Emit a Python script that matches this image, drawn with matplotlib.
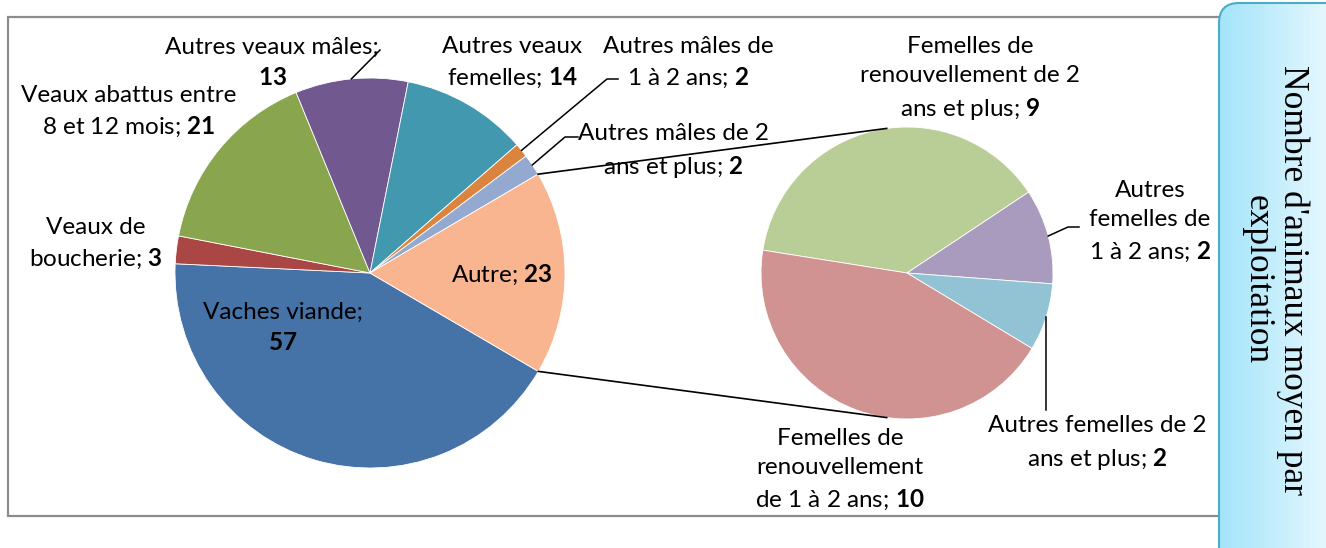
import matplotlib
matplotlib.use("Agg")
import numpy as np
import matplotlib.pyplot as plt
from matplotlib.patches import FancyBboxPatch, Rectangle
from matplotlib.colors import LinearSegmentedColormap

plt.rcParams["font.family"] = ["Lato", "DejaVu Sans"]
plt.rcParams["mathtext.fontset"] = "custom"
plt.rcParams["mathtext.rm"] = "Lato"
plt.rcParams["mathtext.bf"] = "Lato:bold"

W, H = 1326, 548

# camembert principal, sens horaire depuis le bas de "Autre"
main_labels = ["Vaches viande;\n", "Veaux de\nboucherie; ", "Veaux abattus entre\n8 et 12 mois; ",
               "Autres veaux mâles;\n", "Autres veaux\nfemelles; ", "Autres mâles de\n1 à 2 ans; ",
               "Autres mâles de 2\nans et plus; ", "Autre; "]
main_values = [57.2, 3.1, 21.3, 12.6, 14.1, 1.6, 2.4, 22.8]
main_colors = ["#4572a7", "#aa4643", "#89a54e", "#71588f", "#4198af", "#db843d", "#93a9cf", "#f9b590"]

# camembert secondaire (détail de "Autre")
sub_labels = ["Femelles de\nrenouvellement de 2\nans et plus; ", "Autres\nfemelles de\n1 à 2 ans; ",
              "Autres femelles de 2\nans et plus; ", "Femelles de\nrenouvellement\nde 1 à 2 ans; "]
sub_values = [8.7, 2.4, 1.7, 10.0]
sub_colors = ["#b9cd96", "#a99bbd", "#91c3d5", "#d09392"]

box_title = "Nombre d'animaux moyen par\nexploitation"


def P(x, y):
    # pixels (origine en haut à gauche) -> données
    return (x, H - y)


fig = plt.figure(figsize=(W / 100, H / 100), dpi=100)
ax = fig.add_axes([0, 0, 1, 1])

# cadre du graphique
ax.add_patch(Rectangle(P(8, 516), 1217, 499, fill=False, edgecolor="#8c8c8c", lw=1.6, zorder=0))

c1, r1 = P(370, 273), 195
c2, r2 = P(907, 273), 146
w1, _ = ax.pie(main_values, colors=main_colors, startangle=-30.3, counterclock=False,
               center=c1, radius=r1, wedgeprops=dict(edgecolor="white", linewidth=0.6))
w2, _ = ax.pie(sub_values, colors=sub_colors, startangle=171, counterclock=False,
               center=c2, radius=r2, wedgeprops=dict(edgecolor="white", linewidth=0.6))


def on_circle(c, r, ang):
    a = np.radians(ang)
    return c[0] + r * np.cos(a), c[1] + r * np.sin(a)


def mid(w):
    return (w.theta1 + w.theta2) / 2


# lignes de liaison entre les deux camemberts
autre = w1[-1]
for ang_main, ang_sub in [(autre.theta2, 98), (autre.theta1, -98)]:
    p = on_circle(c1, r1, ang_main)
    q = on_circle(c2, r2, ang_sub)
    ax.plot([p[0], q[0]], [p[1], q[1]], color="black", lw=1.2)

fs = 17.5


def lab(text, v, x, y):
    ax.text(*P(x, y), text + r"$\mathbf{%d}$" % round(v), ha="center", va="center",
            multialignment="center", fontsize=fs, linespacing=1.5, color="black")


main_pos = [(283, 328), (96, 244), (129, 112), (272, 63), (512, 63), (688, 63), (673, 151), (502, 275)]
for t, v, (x, y) in zip(main_labels, main_values, main_pos):
    lab(t, v, x, y)

sub_pos = [(970, 79), (1150, 222), (1097, 444), (840, 470)]
for t, v, (x, y) in zip(sub_labels, sub_values, sub_pos):
    lab(t, v, x, y)


def leader(pt, pts):
    xs = [pt[0]] + [P(*q)[0] for q in pts]
    ys = [pt[1]] + [P(*q)[1] for q in pts]
    ax.plot(xs, ys, color="black", lw=1.1)


leader(on_circle(c1, r1, mid(w1[3])), [(380, 50)])
leader(on_circle(c1, r1, mid(w1[5])), [(607, 79), (618, 79)])
leader(on_circle(c1, r1, mid(w1[6])), [(565, 137), (578, 137)])
leader(on_circle(c2, r2, mid(w2[1])), [(1068, 227), (1079, 227)])
p = on_circle(c2, r2, mid(w2[2]))
leader(p, [(p[0], 410)])

# boîte du titre à droite
box = FancyBboxPatch(P(1219, 570), 140, 567, boxstyle="round,pad=0,rounding_size=20",
                     facecolor="none", edgecolor="#4bacc6", lw=1.5, zorder=5)
ax.add_patch(box)
grad = np.linspace(0, 1, 256).reshape(1, -1)
cmap = LinearSegmentedColormap.from_list("g", ["#a3e4fa", "#e4f7fe"])
im = ax.imshow(grad, cmap=cmap, extent=[1219, 1326, 0, H - 3], aspect="auto", zorder=4)
im.set_clip_path(box)
ax.text(*P(1275, 280), box_title, rotation=-90, ha="center", va="center",
        multialignment="center", fontsize=25.5, family="Liberation Serif", linespacing=1.12, zorder=6)

ax.set_xlim(0, W)
ax.set_ylim(0, H)
ax.axis("off")
fig.savefig("out.png", dpi=100)
